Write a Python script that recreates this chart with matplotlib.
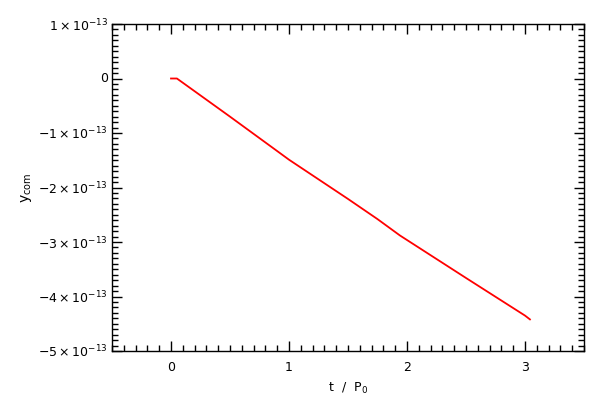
import matplotlib
matplotlib.use("Agg")
import matplotlib.pyplot as plt
from matplotlib.ticker import MultipleLocator, FixedLocator, FixedFormatter

# donnees (y en unites de 1e-13)
t = [0.0, 0.05, 0.5, 0.88, 1.0, 1.5, 1.75, 1.94, 2.5, 3.0, 3.042]
ycom = [0.0, 0.0, -0.70, -1.30, -1.49, -2.21, -2.58, -2.88, -3.66, -4.35, -4.42]
ycom = [v * 1e-13 for v in ycom]

xticks = [0, 1, 2, 3]
xticklabels = ['0', '1', '2', '3']
yticks = [1e-13, 0.0, -1e-13, -2e-13, -3e-13, -4e-13, -5e-13]
yticklabels = [r'$1\times10^{-13}$', '0', r'$-1\times10^{-13}$', r'$-2\times10^{-13}$',
               r'$-3\times10^{-13}$', r'$-4\times10^{-13}$', r'$-5\times10^{-13}$']

plt.rcParams['font.family'] = ['DejaVu Sans']

fig = plt.figure(figsize=(6, 4), dpi=100)
ax = fig.add_axes([0.1867, 0.1225, 0.7866, 0.8175])

ax.plot(t, ycom, color='red', linewidth=1.3)

ax.set_xlim(-0.5, 3.5)
ax.set_ylim(-5e-13, 1e-13)

ax.xaxis.set_major_locator(FixedLocator(xticks))
ax.xaxis.set_major_formatter(FixedFormatter(xticklabels))
ax.xaxis.set_minor_locator(MultipleLocator(0.1))
ax.yaxis.set_major_locator(FixedLocator(yticks))
ax.yaxis.set_major_formatter(FixedFormatter(yticklabels))
ax.yaxis.set_minor_locator(MultipleLocator(1e-14))

ax.tick_params(which='both', direction='in', top=True, right=True, labelsize=9, width=1)
ax.tick_params(which='major', length=7)
ax.tick_params(which='minor', length=4)
ax.tick_params(axis='y', pad=3)
ax.tick_params(axis='x', pad=7)
for lab in ax.get_yticklabels():
    if lab.get_text() == '0':
        lab.set_va('center')
    else:
        lab.set_va('center_baseline')

for s in ax.spines.values():
    s.set_linewidth(1)

ax.set_xlabel(r'$\mathregular{t\ \ /\ \ P_0}$', fontsize=9)
ax.set_ylabel(r'$\mathregular{y_{com}}$', fontsize=10)
ax.yaxis.set_label_coords(-0.165, 0.5)
ax.xaxis.set_label_coords(0.5, -0.09)

fig.savefig('out.png', dpi=100)
